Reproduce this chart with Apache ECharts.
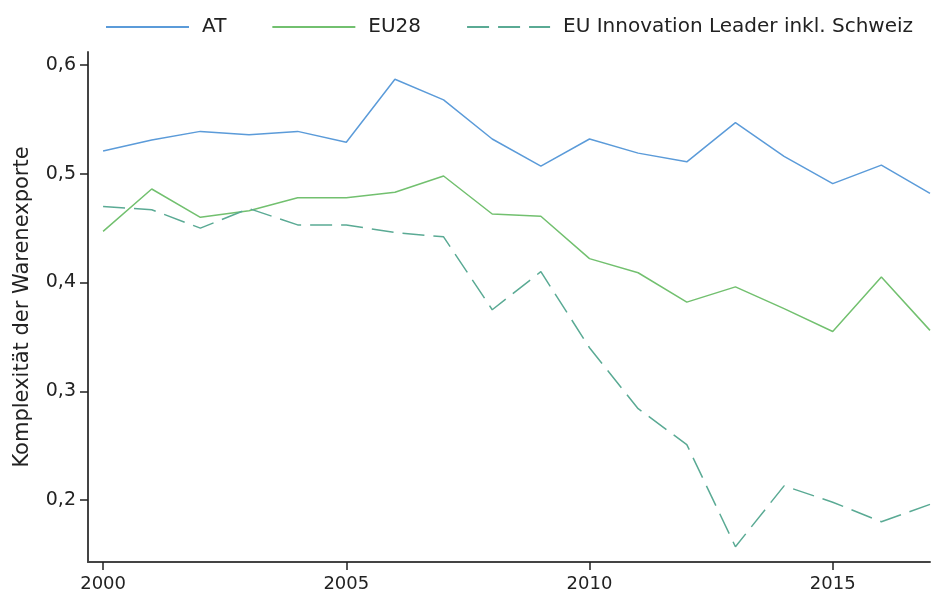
<!DOCTYPE html>
<html><head><meta charset="utf-8">
<script src="https://cdn.jsdelivr.net/npm/echarts@6/dist/echarts.min.js"></script>
<style>html,body{margin:0;padding:0;background:#fff}#c{width:934px;height:598px}</style>
</head><body><div id="c"></div>
<script>
const years = [2000,2001,2002,2003,2004,2005,2006,2007,2008,2009,2010,2011,2012,2013,2014,2015,2016,2017];
const at   = [0.521,0.531,0.539,0.536,0.539,0.529,0.587,0.568,0.532,0.507,0.532,0.519,0.511,0.547,0.516,0.491,0.508,0.482];
const eu28 = [0.447,0.486,0.460,0.466,0.478,0.478,0.483,0.498,0.463,0.461,0.422,0.409,0.382,0.396,0.376,0.355,0.405,0.356];
const innov= [0.470,0.467,0.450,0.468,0.453,0.453,0.446,0.442,0.375,0.410,0.340,0.284,0.251,0.157,0.213,0.198,0.180,0.196];
const xTicks = [2000,2005,2010,2015];
const yTicks = [0.2,0.3,0.4,0.5,0.6];
const seriesNames = ['AT','EU28','EU Innovation Leader inkl. Schweiz'];

const font = '"DejaVu Sans", sans-serif';
const pair = a => years.map((y,i)=>[y,a[i]]);
const chart = echarts.init(document.getElementById('c'), null, {renderer:'canvas'});
chart.setOption({
  animation:false,
  textStyle:{fontFamily:font},
  legend:{top:12,left:100,itemWidth:83,itemHeight:14,itemGap:45,
    itemStyle:{opacity:0},
    textStyle:{fontSize:20,color:'#222',fontFamily:font,padding:[0,0,0,8]},
    data:seriesNames},
  grid:{left:88,right:4,top:52,bottom:36},
  xAxis:{type:'value',min:1999.69,max:2017,
    axisLine:{show:true,lineStyle:{color:'#444',width:2}},
    axisTick:{show:true,length:8,lineStyle:{color:'#222',width:1.5},customValues:xTicks},
    axisLabel:{customValues:xTicks,fontSize:18,color:'#222',margin:13,fontFamily:font,
      formatter:v=>String(v)},
    splitLine:{show:false}},
  yAxis:{type:'value',min:0.143,max:0.612,
    name:'Komplexität der Warenexporte',nameLocation:'middle',nameGap:55,
    nameTextStyle:{fontSize:21,color:'#222',fontFamily:font},
    axisLine:{show:true,lineStyle:{color:'#444',width:2}},
    axisTick:{show:true,length:8,lineStyle:{color:'#222',width:1.5},customValues:yTicks},
    axisLabel:{customValues:yTicks,fontSize:19,color:'#222',margin:12,fontFamily:font,
      formatter:v=>v.toFixed(1).replace('.',',')},
    splitLine:{show:false}},
  series:[
    {name:seriesNames[0],type:'line',data:pair(at),symbol:'none',lineStyle:{color:'#5b9bd9',width:1.5},itemStyle:{color:'#5b9bd9'}},
    {name:seriesNames[1],type:'line',data:pair(eu28),symbol:'none',lineStyle:{color:'#72c06f',width:1.5},itemStyle:{color:'#72c06f'}},
    {name:seriesNames[2],type:'line',data:pair(innov),symbol:'none',lineStyle:{color:'#5aaa94',width:1.5,type:[22,9]},itemStyle:{color:'#5aaa94'}}
  ]
});
</script></body></html>
